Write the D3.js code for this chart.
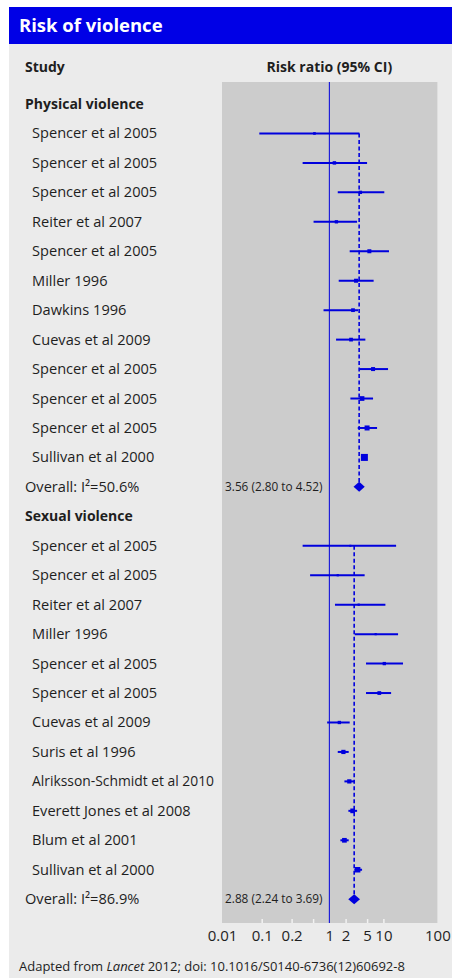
<!DOCTYPE html>
<html><head><meta charset="utf-8">
<script src="https://cdn.jsdelivr.net/npm/d3@7"></script>
<style>
html,body{margin:0;padding:0;background:#fff;}
svg{display:block;font-family:"Open Sans",sans-serif;}
</style></head>
<body>
<script>
// ---- data ----
const physStudies = ["Spencer et al 2005","Spencer et al 2005","Spencer et al 2005","Reiter et al 2007","Spencer et al 2005","Miller 1996","Dawkins 1996","Cuevas et al 2009","Spencer et al 2005","Spencer et al 2005","Spencer et al 2005","Sullivan et al 2000"];
const physRR = [0.53, 1.24, 3.75, 1.35, 5.5, 3.12, 2.74, 2.52, 6.44, 4.03, 4.99, 4.45];
const physLo = [0.087, 0.32, 1.43, 0.51, 2.38, 1.49, 0.78, 1.33, 3.6, 2.45, 3.35, 4.0];
const physHi = [3.6, 4.99, 10.4, 3.26, 12.7, 6.6, 3.4, 4.64, 12.2, 6.44, 7.64, 4.9];
const physWeight = [7, 12, 11, 11, 16, 16, 14, 14, 16, 22, 25, 49];
const physOverall = {label:"Overall: I\u00B2=50.6%", rr:3.56, lo:2.80, hi:4.52, text:"3.56 (2.80 to 4.52)"};

const sexStudies = ["Spencer et al 2005","Spencer et al 2005","Reiter et al 2007","Miller 1996","Spencer et al 2005","Spencer et al 2005","Cuevas et al 2009","Suris et al 1996","Alriksson-Schmidt et al 2010","Everett Jones et al 2008","Blum et al 2001","Sullivan et al 2000"];
const sexRR = [2.45, 1.43, 3.49, 7.2, 10.4, 8.4, 1.53, 1.82, 2.34, 2.7, 1.9, 3.34];
const sexLo = [0.32, 0.44, 1.27, 2.95, 4.77, 4.77, 0.91, 1.43, 1.9, 2.25, 1.6, 2.9];
const sexHi = [17.2, 4.5, 10.9, 18.7, 23.1, 13.9, 2.38, 2.28, 2.9, 3.26, 2.28, 4.03];
const sexWeight = [4, 5, 5, 5, 11, 14, 11, 18, 18, 22, 22, 30];
const sexOverall = {label:"Overall: I\u00B2=86.9%", rr:2.88, lo:2.24, hi:3.69, text:"2.88 (2.24 to 3.69)"};

const sections = ["Physical violence","Sexual violence"];
const tickValues = [0.01, 0.1, 0.2, 0.5, 1, 2, 5, 10, 100];
const tickLabels = ["0.01","0.1","0.2","","1","2","5","10","100"];

// ---- layout ----
const W = 452, H = 978;
const blue = "#0000dd", barBlue = "#0000e6", ink = "#1e1e1e";
const svg = d3.select("body").append("svg").attr("width", W).attr("height", H);

svg.append("rect").attr("x",9).attr("y",7).attr("width",W-9).attr("height",H-7).attr("fill","#ebebeb");
svg.append("rect").attr("x",9).attr("y",7).attr("width",W-9).attr("height",37).attr("fill",barBlue);
svg.append("text").attr("x",19).attr("y",32).attr("fill","#fff").attr("font-weight","bold")
  .attr("font-size",18.5).text("Risk of violence");

// rows
const rows = [];
const groups = [
  {name:sections[0], studies:physStudies, rr:physRR, lo:physLo, hi:physHi, w:physWeight, ov:physOverall},
  {name:sections[1], studies:sexStudies, rr:sexRR, lo:sexLo, hi:sexHi, w:sexWeight, ov:sexOverall}
];
groups.forEach(g=>{
  rows.push({type:"header", label:g.name});
  g.studies.forEach((s,i)=>rows.push({type:"study", label:s, rr:g.rr[i], lo:g.lo[i], hi:g.hi[i], w:g.w[i], group:g}));
  rows.push({type:"overall", label:g.ov.label, rr:g.ov.rr, lo:g.ov.lo, hi:g.ov.hi, text:g.ov.text, group:g});
});
const y = d3.scaleLinear().domain([0, rows.length-1]).range([104, 899.2]);
const x = d3.scaleLog().domain([0.01, 0.1, 0.2, 100]).range([222, 261.7, 291.6, 437.4]);
const size = d3.scaleSqrt().domain([0, 49]).range([0, 7]);

const plotTop = 82, plotBot = 923;
svg.append("rect").attr("x",x(0.01)).attr("y",plotTop).attr("width",x(100)-x(0.01)).attr("height",plotBot-plotTop).attr("fill","#cccccc");

// headers
svg.append("text").attr("x",25).attr("y",72).attr("font-weight","bold").attr("font-size",14).attr("fill",ink).text("Study");
svg.append("text").attr("x",x(1)).attr("y",72).attr("text-anchor","middle").attr("font-weight","bold").attr("font-size",14).attr("fill",ink).text("Risk ratio (95% CI)");

// axis
const axis = d3.axisBottom(x).tickValues(tickValues).tickFormat((d,i)=>tickLabels[i]).tickSizeInner(-4).tickSizeOuter(0).tickPadding(7);
const ax = svg.append("g").attr("transform",`translate(0,${plotBot})`).call(axis);
ax.select(".domain").remove();
ax.selectAll(".tick line").attr("stroke","#f2f2f2").attr("stroke-width",1.5)
  .attr("opacity", d => (d===0.01||d===100||d===1) ? 0 : 1);
ax.selectAll(".tick text").attr("font-size",15).attr("fill",ink).attr("font-family","'Open Sans',sans-serif");

// line of no effect
svg.append("line").attr("x1",x(1)).attr("x2",x(1)).attr("y1",plotTop).attr("y2",plotBot).attr("stroke",blue).attr("stroke-width",1);

// dashed overall lines
groups.forEach(g=>{
  const idx = rows.filter(r=>r.group===g);
  const first = rows.indexOf(idx[0]), last = rows.indexOf(idx[idx.length-1]);
  svg.append("line").attr("x1",x(g.ov.rr)).attr("x2",x(g.ov.rr)).attr("y1",y(first)).attr("y2",y(last))
    .attr("stroke",blue).attr("stroke-width",1.6).attr("stroke-dasharray","4,2.5");
});

// labels and marks
const maxLabelW = 182;
rows.forEach((r,i)=>{
  const yy = y(i);
  if(r.type==="header"){
    svg.append("text").attr("x",25).attr("y",yy+5).attr("font-weight","bold").attr("font-size",14).attr("fill",ink).text(r.label);
  } else if(r.type==="study"){
    const t = svg.append("text").attr("x",32).attr("y",yy+5).attr("font-size",14.6).attr("fill",ink).text(r.label);
    if (t.node().getComputedTextLength() > maxLabelW) t.attr("textLength", maxLabelW).attr("lengthAdjust","spacingAndGlyphs");
    svg.append("line").attr("x1",x(r.lo)).attr("x2",x(r.hi)).attr("y1",yy).attr("y2",yy).attr("stroke",blue).attr("stroke-width",2);
    const s = size(r.w);
    svg.append("rect").attr("x",x(r.rr)-s/2).attr("y",yy-s/2).attr("width",s).attr("height",s).attr("fill",blue);
  } else {
    svg.append("text").attr("x",25).attr("y",yy+5).attr("font-size",14.6).attr("fill",ink).text(r.label);
    svg.append("text").attr("x",322.5).attr("y",yy+4).attr("text-anchor","end").attr("font-size",11.8).attr("fill",ink).text(r.text);
    const xl = x(r.lo), xh = x(r.hi), xc = x(r.rr), h = 5;
    svg.append("path").attr("d",`M${xl},${yy}L${xc},${yy-h}L${xh},${yy}L${xc},${yy+h}Z`).attr("fill",blue);
  }
});

// footer
const ft = svg.append("text").attr("x",19).attr("y",971).attr("font-size",13).attr("fill",ink);
ft.append("tspan").text("Adapted from ");
ft.append("tspan").attr("font-style","italic").text("Lancet");
ft.append("tspan").text(" 2012; doi: 10.1016/S0140-6736(12)60692-8");
</script>
</body></html>
